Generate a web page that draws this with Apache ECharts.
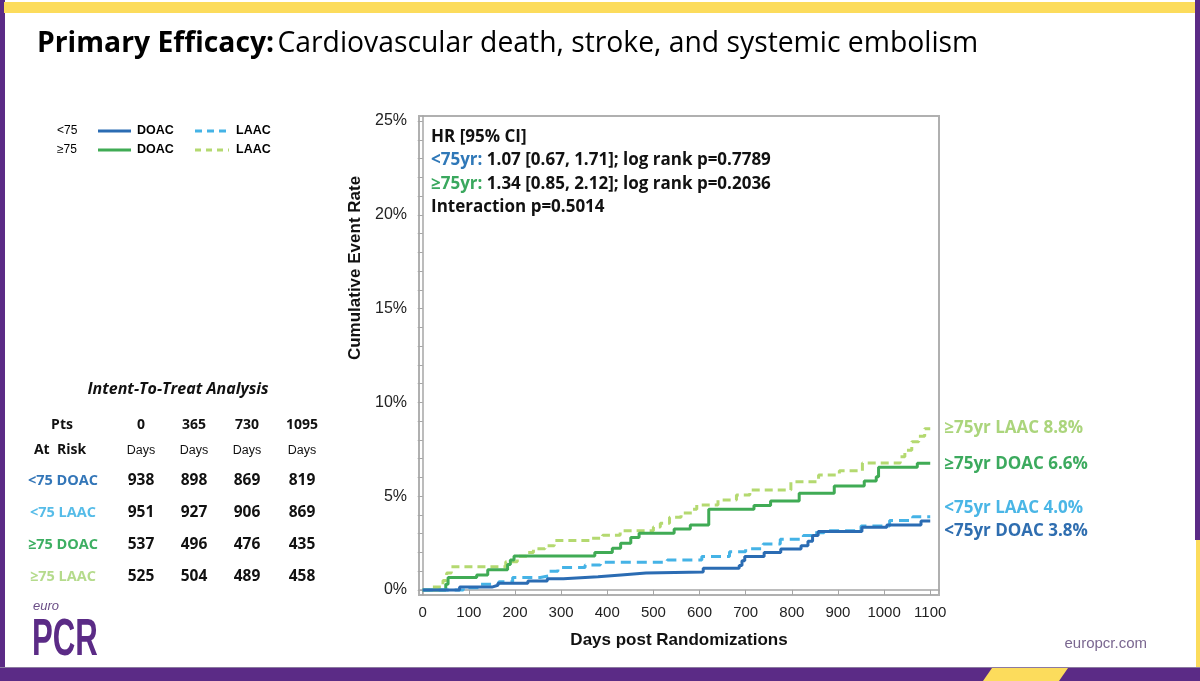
<!DOCTYPE html>
<html><head><meta charset="utf-8">
<script src="https://cdn.jsdelivr.net/npm/echarts@6/dist/echarts.min.js"></script>
<style>html,body{margin:0;padding:0;background:#fff}#c{width:1200px;height:681px}</style>
</head><body><div id="c"></div>
<script>
// ---------- data ----------
const groupNames = ['<75 DOAC', '<75 LAAC', '≥75 DOAC', '≥75 LAAC'];
const endLabelTexts = ['<75yr DOAC 3.8%', '<75yr LAAC 4.0%', '≥75yr DOAC 6.6%', '≥75yr LAAC 8.8%'];

const youngDoacDays  = [0, 80, 150, 163, 228, 270, 305, 380, 430, 484, 608, 686, 692, 698, 740, 776, 820, 835, 845, 857, 952, 1006, 1080, 1100];
const youngDoacRates = [0, 0.15, 0.25, 0.36, 0.48, 0.6, 0.7, 0.8, 0.9, 0.95, 1.15, 1.3, 1.55, 1.78, 1.99, 2.18, 2.36, 2.6, 2.9, 3.11, 3.34, 3.46, 3.68, 3.68];

const youngLaacDays  = [0, 88, 121, 165, 195, 255, 275, 293, 352, 385, 530, 605, 665, 700, 738, 775, 825, 850, 870, 950, 1012, 1062, 1100];
const youngLaacRates = [0, 0.12, 0.3, 0.44, 0.66, 0.76, 1.0, 1.19, 1.33, 1.47, 1.6, 1.78, 2.04, 2.2, 2.45, 2.7, 2.9, 3.05, 3.16, 3.41, 3.7, 3.9, 3.9];

const oldDoacDays  = [0, 50, 55, 117, 141, 184, 190, 198, 373, 411, 429, 451, 469, 545, 580, 620, 718, 754, 816, 892, 957, 983, 988, 1072, 1100];
const oldDoacRates = [0, 0.3, 0.66, 0.8, 1.07, 1.35, 1.6, 1.81, 1.99, 2.22, 2.49, 2.79, 3.02, 3.25, 3.46, 4.3, 4.5, 4.74, 5.15, 5.54, 5.81, 6.04, 6.54, 6.75, 6.75];

const oldLaacDays  = [0, 16, 44, 52, 62, 180, 205, 225, 240, 265, 285, 362, 390, 428, 500, 515, 535, 560, 585, 594, 640, 680, 709, 798, 858, 903, 953, 1035, 1045, 1060, 1075, 1088, 1100];
const oldLaacRates = [0, 0.15, 0.5, 0.9, 1.24, 1.5, 1.8, 2.0, 2.2, 2.35, 2.63, 2.75, 2.92, 3.15, 3.35, 3.55, 3.87, 4.1, 4.3, 4.53, 4.8, 5.06, 5.33, 5.77, 6.13, 6.35, 6.77, 7.1, 7.45, 7.9, 8.2, 8.6, 8.6];

const xTickDays = [0, 100, 200, 300, 400, 500, 600, 700, 800, 900, 1000, 1100];
const yTickMinor = [0,1,2,3,4,5,6,7,8,9,10,11,12,13,14,15,16,17,18,19,20,21,22,23,24,25];
const yTickLabels = [0, 5, 10, 15, 20, 25];

const riskHeaderDays = ['0', '365', '730', '1095'];
const riskYoungDoac = [938, 898, 869, 819];
const riskYoungLaac = [951, 927, 906, 869];
const riskOldDoac   = [537, 496, 476, 435];
const riskOldLaac   = [525, 504, 489, 458];

const hrLines = [
  ['', 'HR [95% CI]'],
  ['<75yr:', ' 1.07 [0.67, 1.71]; log rank p=0.7789'],
  ['≥75yr:', ' 1.34 [0.85, 2.12]; log rank p=0.2036'],
  ['', 'Interaction p=0.5014']
];

// ---------- styles ----------
const C = {
  yDoac: '#2b6cb3', yLaac: '#45b3e6', oDoac: '#40ab55', oLaac: '#b4d970',
  yDoacTxt: '#2f6eb0', yLaacTxt: '#4ab6e6', oDoacTxt: '#3caa5e', oLaacTxt: '#abd57c',
  axis: '#a6a6a6', purple: '#5b2b86', yellow: '#fcdc5c'
};
const F = "'Open Sans', 'Noto Sans', sans-serif";
const A = "'Liberation Sans', Arial, sans-serif";

const pairs = (d, r) => d.map((v, i) => [v, r[i]]);

const curveDefs = [
  {days: youngDoacDays, rates: youngDoacRates, color: C.yDoac, txt: C.yDoacTxt, dash: 'solid', off: [6, 10]},
  {days: youngLaacDays, rates: youngLaacRates, color: C.yLaac, txt: C.yLaacTxt, dash: [10, 6], off: [6, -9]},
  {days: oldDoacDays, rates: oldDoacRates, color: C.oDoac, txt: C.oDoacTxt, dash: 'solid', off: [6, 1]},
  {days: oldLaacDays, rates: oldLaacRates, color: C.oLaac, txt: C.oLaacTxt, dash: [8, 5], off: [6, 0]}
];

const series = curveDefs.map((c, i) => ({
  name: groupNames[i],
  type: 'line',
  step: 'end',
  symbol: 'none',
  data: pairs(c.days, c.rates),
  lineStyle: {color: c.color, width: 3, type: c.dash},
  z: 10 - i,
  endLabel: {
    show: true, formatter: endLabelTexts[i], color: c.txt,
    fontFamily: F, fontWeight: 'bold', fontSize: 17, offset: c.off, distance: 8
  }
}));

// ---------- graphics ----------
const g = [];
// slide frame
g.push({type: 'rect', shape: {x: 0, y: 0, width: 5, height: 681}, style: {fill: C.purple}, silent: true});
g.push({type: 'rect', shape: {x: 1195, y: 0, width: 5, height: 540}, style: {fill: C.purple}, silent: true});
g.push({type: 'rect', shape: {x: 1196, y: 540, width: 4, height: 130}, style: {fill: C.yellow}, silent: true});
g.push({type: 'rect', shape: {x: 4, y: 2, width: 1191, height: 11}, style: {fill: C.yellow}, silent: true});
g.push({type: 'rect', shape: {x: 0, y: 668, width: 1200, height: 13}, style: {fill: C.purple}, silent: true});
g.push({type: 'rect', shape: {x: 0, y: 667, width: 1200, height: 1}, style: {fill: '#8c7aa0'}, silent: true});
g.push({type: 'polygon', shape: {points: [[983, 681], [992, 668], [1068, 668], [1059, 681]]}, style: {fill: C.yellow}, silent: true});

// title
g.push({type: 'text', left: 37, top: 30, style: {
  text: '{b|Primary Efficacy:} {n|Cardiovascular death, stroke, and systemic embolism}',
  rich: {b: {fontFamily: F, fontSize: 28.3, fontWeight: 'bold', fill: '#000'}, n: {fontFamily: F, fontSize: 28.3, fill: '#000'}}
}});

// legend
const legRows = [
  {label: '<75', y: 131, c1: C.yDoac, c2: C.yLaac, d2: [7, 5]},
  {label: '≥75', y: 150, c1: C.oDoac, c2: C.oLaac, d2: [6, 5]}
];
legRows.forEach(r => {
  g.push({type: 'text', x: 57, y: r.y, style: {text: r.label, font: '12px ' + A, fill: '#000', textVerticalAlign: 'middle'}});
  g.push({type: 'line', shape: {x1: 98, y1: r.y, x2: 131, y2: r.y}, style: {stroke: r.c1, lineWidth: 3}});
  g.push({type: 'text', x: 137, y: r.y, style: {text: 'DOAC', font: 'bold 12.5px ' + A, fill: '#000', textVerticalAlign: 'middle'}});
  g.push({type: 'line', shape: {x1: 195, y1: r.y, x2: 229, y2: r.y}, style: {stroke: r.c2, lineWidth: 3, lineDash: r.d2}});
  g.push({type: 'text', x: 236, y: r.y, style: {text: 'LAAC', font: 'bold 12.5px ' + A, fill: '#000', textVerticalAlign: 'middle'}});
});

// risk table
const colX = [141, 194, 247, 302];
g.push({type: 'text', x: 178, y: 389, style: {text: 'Intent-To-Treat Analysis', font: 'italic bold 16px ' + F, fill: '#111', textAlign: 'center', textVerticalAlign: 'middle'}});
g.push({type: 'text', x: 62, y: 425, style: {text: 'Pts', font: 'bold 14px ' + F, fill: '#111', textAlign: 'center', textVerticalAlign: 'middle'}});
g.push({type: 'text', x: 60, y: 450, style: {text: 'At  Risk', font: 'bold 14px ' + F, fill: '#111', textAlign: 'center', textVerticalAlign: 'middle'}});
riskHeaderDays.forEach((d, i) => {
  g.push({type: 'text', x: colX[i], y: 425, style: {text: d, font: 'bold 14px ' + F, fill: '#111', textAlign: 'center', textVerticalAlign: 'middle'}});
  g.push({type: 'text', x: colX[i], y: 451, style: {text: 'Days', font: '12.5px ' + A, fill: '#111', textAlign: 'center', textVerticalAlign: 'middle'}});
});
const riskRows = [riskYoungDoac, riskYoungLaac, riskOldDoac, riskOldLaac];
const riskColors = ['#3376b8', '#56bce8', '#3daf62', '#b5db8c'];
const rowY = [481, 513, 545, 577];
riskRows.forEach((row, r) => {
  g.push({type: 'text', x: 63, y: rowY[r], style: {text: groupNames[r], font: 'bold 14.5px ' + F, fill: riskColors[r], textAlign: 'center', textVerticalAlign: 'middle'}});
  row.forEach((v, i) => {
    g.push({type: 'text', x: colX[i], y: rowY[r], style: {text: String(v), font: 'bold 15.5px ' + F, fill: '#111', textAlign: 'center', textVerticalAlign: 'middle'}});
  });
});

// HR box text
const hrColors = ['#111', '#2f78b8', '#3aa85e', '#111'];
const hrY = [137, 160, 184, 207];
hrLines.forEach((l, i) => {
  g.push({type: 'text', x: 431, y: hrY[i], z: 20, style: {
    text: (l[0] ? '{p|' + l[0] + '}' : '') + '{q|' + l[1] + '}',
    rich: {p: {fontFamily: F, fontSize: 17, fontWeight: 'bold', fill: hrColors[i]}, q: {fontFamily: F, fontSize: 17, fontWeight: 'bold', fill: '#111'}},
    textVerticalAlign: 'middle'
  }});
});

// y axis title (placed as in the reference, above the axis middle)
g.push({type: 'text', x: 355, y: 268, rotation: Math.PI / 2, style: {text: 'Cumulative Event Rate', font: 'bold 17px ' + A, fill: '#111', textAlign: 'center', textVerticalAlign: 'middle'}});

// logo + url
g.push({type: 'text', x: 33, y: 606, style: {text: 'euro', font: 'italic 13px ' + A, fill: '#6a4d86', textVerticalAlign: 'middle'}});
g.push({type: 'text', x: 32, y: 641, scaleX: 0.6, originX: 0, originY: 0, style: {text: 'PCR', font: 'bold 52px ' + A, fill: C.purple, textVerticalAlign: 'middle'}});
g.push({type: 'text', x: 1147, y: 644, style: {text: 'europcr.com', font: '15px ' + A, fill: '#7a6790', textAlign: 'right', textVerticalAlign: 'middle'}});

// ---------- chart ----------
const chart = echarts.init(document.getElementById('c'), null, {renderer: 'canvas'});
chart.setOption({
  animation: false,
  backgroundColor: '#fff',
  grid: {left: 419, top: 116, width: 520, height: 479, show: true, borderColor: '#b0b0b0', borderWidth: 2, backgroundColor: 'transparent'},
  xAxis: {
    type: 'value', min: -8, max: 1119,
    name: 'Days post Randomizations', nameLocation: 'middle', nameGap: 37,
    nameTextStyle: {fontFamily: A, fontWeight: 'bold', fontSize: 17, color: '#111'},
    axisLine: {show: true, lineStyle: {color: C.axis, width: 1.5}},
    axisTick: {show: true, customValues: xTickDays, length: 5, lineStyle: {color: C.axis}},
    axisLabel: {customValues: xTickDays, formatter: v => String(v), fontFamily: A, fontSize: 15, color: '#222', margin: 10},
    splitLine: {show: false}
  },
  yAxis: {
    type: 'value', min: -0.27, max: 25.27,
    axisLine: {show: true, lineStyle: {color: C.axis, width: 1.5}},
    axisTick: {show: true, customValues: yTickMinor, length: 5, lineStyle: {color: C.axis}},
    axisLabel: {customValues: yTickLabels, formatter: '{value}%', fontFamily: A, fontSize: 16, color: '#222', margin: 12},
    splitLine: {show: false}
  },
  series: series,
  graphic: g
});
</script>
</body></html>
